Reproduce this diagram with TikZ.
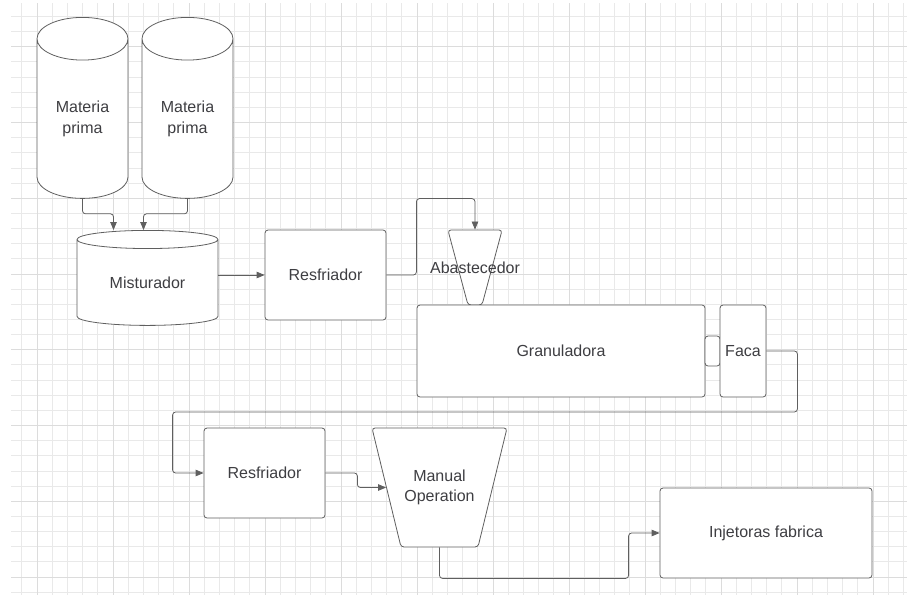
\documentclass[tikz,border=0pt]{standalone}
\usepackage{fontspec}
\setmainfont{Liberation Sans}
\usepackage{tikz}
\usetikzlibrary{positioning,arrows.meta,shapes.geometric}
\definecolor{gridminor}{RGB}{233,233,233}
\definecolor{gridmajor}{RGB}{220,220,220}
\definecolor{edge}{RGB}{95,95,95}
\definecolor{ink}{RGB}{62,62,66}

\begin{document}
\begin{tikzpicture}[x=1pt,y=-1pt,font=\fontsize{16}{20.5}\selectfont,
  box/.style={draw=edge,line width=0.8pt,rounded corners=3pt,fill=white,text=ink,inner sep=0pt},
  tank/.style={draw=edge,line width=0.8pt,fill=white,text=ink,cylinder,shape border rotate=90,inner sep=0pt,align=center,anchor=north},
  hopper/.style={draw=edge,line width=0.8pt,rounded corners=3pt,fill=white,trapezium,shape border rotate=180,inner sep=0pt},
  conn/.style={draw=edge,line width=0.8pt,rounded corners=3pt,-{Triangle[length=8pt,width=6.5pt]}}]
\useasboundingbox (0,0) rectangle (907,595);
\fill[white] (0,0) rectangle (907,595);
% Grid paper
\foreach \i in {-1,...,57}
  \draw[gridminor,line width=0.8pt] ({37+15.2*\i},3) -- ({37+15.2*\i},595);
\foreach \j in {-2,...,36}
  \draw[gridminor,line width=0.8pt] (11,{46.7+15.15*\j}) -- (907,{46.7+15.15*\j});
\foreach \i in {0,5,...,55}
  \draw[gridmajor,line width=0.8pt] ({37+15.2*\i},3) -- ({37+15.2*\i},595);
\foreach \j in {0,5,...,35}
  \draw[gridmajor,line width=0.8pt] (11,{46.7+15.15*\j}) -- (907,{46.7+15.15*\j});
% Raw material and mixer
\node[tank,minimum width=91,minimum height=181,aspect=0.8] (mp1) at (82.5,17) {Materia\\prima};
\node[tank,minimum width=91,minimum height=181,aspect=0.8] (mp2) at (187.5,17) {Materia\\prima};
\node[tank,minimum width=141,minimum height=95,aspect=0.24] (mist) at (147.5,230) {Misturador};
% First cooling and feeding
\node[box,minimum width=121,minimum height=90] (res1) at (325.5,275) {Resfriador};
\node[hopper,text width=14pt,text height=37.5pt,text depth=37.5pt,trapezium left angle=75,trapezium right angle=75,
  label={[text=ink]center:Abastecedor}] (abast) at (475,267.5) {};
% Granulator line
\node[box,minimum width=288,minimum height=92] (gran) at (561,351) {Granuladora};
\node[box,minimum width=15,minimum height=30] (joint) at (712.5,351) {};
\node[box,minimum width=46,minimum height=92] (faca) at (743,351) {Faca};
% Second cooling and output
\node[box,minimum width=121,minimum height=90] (res2) at (264.5,473) {Resfriador};
\node[hopper,text width=77pt,text height=59.5pt,text depth=59.5pt,trapezium left angle=76.3,trapezium right angle=76.3,
  label={[text=ink,align=center]center:Manual\\Operation}] (manual) at (439.5,487.5) {};
\node[box,minimum width=212,minimum height=90] (inj) at (766,533) {Injetoras fabrica};
% Connectors
\draw[conn] (mp1.south) -- ++(0,15) -| ([xshift=-34pt]mist.north);
\draw[conn] (mp2.south) -- ++(0,15) -| ([xshift=-4pt]mist.north);
\draw[conn] (mist.east |- res1) -- (res1);
\draw[conn] (res1.east) -- ++(30,0) |- ([yshift=31pt]abast.north) -- (abast.north);
\draw[conn] (faca.east) -- ++(31,0) -- ++(0,61) -| ([xshift=-31pt]res2.west) -- (res2.west);
\draw[conn] (res2.east) -- ++(32,0) |- (manual);
\draw[conn] (manual.south) -- ++(0,31) -| ([xshift=-31pt]inj.west) -- (inj.west);
\end{tikzpicture}
\end{document}
